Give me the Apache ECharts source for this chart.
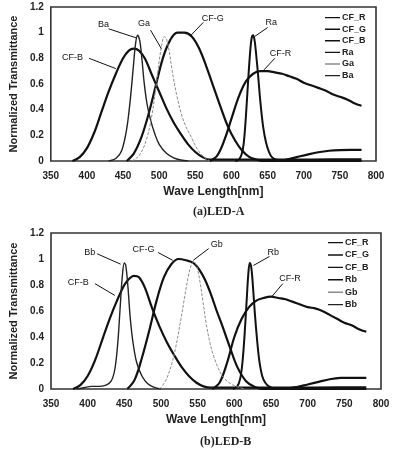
<!DOCTYPE html>
<html><head><meta charset="utf-8">
<script src="https://cdn.jsdelivr.net/npm/echarts@6/dist/echarts.min.js"></script>
<style>html,body{margin:0;padding:0;background:#fff}#c{width:394px;height:452px}</style>
</head><body><div id="c"></div>
<script>
// ---- Axis ticks ----
const xTicks = [350,400,450,500,550,600,650,700,750,800];
const yTicks = [0,0.2,0.4,0.6,0.8,1,1.2];

// ---- (a) LED-A ----
const cfrA_x = [570,580,590,600,610,620,630,640,650,660,670,680,690,700,710,720,730,740,750,760,770,780];
const cfrA_y = [0,0.04,0.16,0.33,0.5,0.62,0.68,0.7,0.7,0.69,0.68,0.66,0.64,0.61,0.59,0.57,0.55,0.52,0.5,0.48,0.45,0.43];
const cfgA_x = [455,465,475,485,495,505,515,525,535,545,555,565,575,585,595,605,615,625,635,645,655,665,675,690,705,720,735,750,765,780];
const cfgA_y = [0,0.06,0.18,0.36,0.58,0.8,0.94,1.0,1.0,0.97,0.88,0.74,0.58,0.42,0.27,0.16,0.08,0.03,0.01,0,0,0.002,0.01,0.03,0.05,0.068,0.08,0.085,0.086,0.086];
const cfbA_x = [380,390,400,410,420,430,440,450,458,465,472,480,490,500,510,520,530,540,550,560,570,580,620,680,740,780];
const cfbA_y = [0,0.03,0.1,0.22,0.38,0.54,0.68,0.8,0.86,0.875,0.86,0.8,0.67,0.54,0.41,0.3,0.21,0.13,0.07,0.03,0.01,0.01,0.01,0.01,0.012,0.012];
const raA_x = [605,610,614,617,620,623,626,628,630,632,634,637,640,644,648,652,656,662,670,700,740,780];
const raA_y = [0,0.01,0.05,0.14,0.35,0.62,0.86,0.96,0.98,0.94,0.84,0.66,0.46,0.26,0.14,0.07,0.03,0.01,0,0,0,0];
const gaA_x = [462,472,482,490,496,500,504,507,510,514,518,524,530,536,544,552,560,570];
const gaA_y = [0,0.04,0.16,0.36,0.6,0.78,0.92,0.97,0.95,0.85,0.7,0.52,0.38,0.28,0.19,0.1,0.04,0];
const baA_x = [430,440,448,455,460,464,467,470,473,476,479,483,488,494,500,510,520,530,540];
const baA_y = [0,0.02,0.08,0.25,0.48,0.72,0.9,0.98,0.94,0.8,0.62,0.45,0.32,0.21,0.13,0.06,0.025,0.008,0];

// ---- (b) LED-B ----
const cfrB_x = [570,580,590,600,610,620,630,640,650,660,670,680,690,700,710,720,730,740,750,760,770,780];
const cfrB_y = [0,0.05,0.2,0.4,0.54,0.63,0.68,0.7,0.71,0.7,0.69,0.67,0.65,0.63,0.62,0.6,0.57,0.54,0.51,0.49,0.46,0.44];
const cfgB_x = [454,464,474,484,494,504,514,524,534,544,552,560,568,576,584,594,604,616,628,640,655,670,685,700,715,730,745,760,780];
const cfgB_y = [0,0.07,0.24,0.45,0.68,0.86,0.96,1.0,0.99,0.97,0.92,0.84,0.73,0.6,0.48,0.32,0.17,0.06,0.015,0,0,0.002,0.015,0.035,0.055,0.075,0.085,0.086,0.086];
const cfbB_x = [380,390,400,410,420,430,440,450,457,463,470,478,488,498,508,518,528,538,548,558,568,580,620,680,740,780];
const cfbB_y = [0,0.03,0.1,0.22,0.38,0.54,0.68,0.8,0.85,0.87,0.86,0.78,0.62,0.48,0.36,0.26,0.17,0.1,0.05,0.02,0.01,0.01,0.01,0.01,0.012,0.012];
const rbB_x = [598,604,608,611,614,617,619,621,623,625,628,631,634,638,642,647,652,660,670,700,740,780];
const rbB_y = [0,0.02,0.08,0.2,0.42,0.7,0.88,0.97,0.94,0.82,0.58,0.38,0.22,0.1,0.05,0.02,0.008,0,0,0,0,0];
const gbB_x = [498,506,514,520,526,532,537,541,545,549,553,557,562,567,572,578,585,595,605,615];
const gbB_y = [0,0.06,0.18,0.32,0.5,0.7,0.86,0.95,0.98,0.94,0.83,0.68,0.49,0.35,0.25,0.16,0.09,0.04,0.015,0];
const bbB_x = [385,395,405,415,425,432,437,441,444,447,450,452,455,458,462,467,474,482,490,500];
const bbB_y = [0,0.01,0.02,0.02,0.03,0.06,0.15,0.35,0.6,0.85,0.97,0.95,0.78,0.55,0.35,0.2,0.1,0.04,0.015,0];

// ---- legend names ----
const legendA = ['CF_R','CF_G','CF_B','Ra','Ga','Ba'];
const legendB = ['CF_R','CF_G','CF_B','Rb','Gb','Bb'];

// ---- curve annotations: [text, labelX, labelY, lineStartX, lineStartY, curveX, curveY] ----
const annA = [
  ['Ba',423,1.06,430,1.03,468,0.96],
  ['Ga',479,1.07,488,1.02,503,0.875],
  ['CF-B',380,0.81,403,0.8,440,0.72],
  ['CF-G',574,1.11,561,1.08,544,0.98],
  ['Ra',655,1.08,650,1.04,632,0.97],
  ['CF-R',668,0.84,660,0.8,645,0.71]
];
const annB = [
  ['Bb',403,1.05,413,1.04,445,0.96],
  ['CF-B',387,0.82,410,0.81,437,0.72],
  ['CF-G',476,1.07,496,1.05,516,0.99],
  ['Gb',576,1.11,565,1.08,544,0.99],
  ['Rb',653,1.05,648,1.02,626,0.95],
  ['CF-R',676,0.85,666,0.81,651,0.71]
];

const FONT = 'Liberation Sans, Arial, sans-serif';
const pairs = (xs, ys) => xs.map((x, i) => [x, ys[i]]);

function makeSeries(idx, name, xs, ys, style, ann) {
  const s = {
    type: 'line', name: name, xAxisIndex: idx, yAxisIndex: idx,
    data: pairs(xs, ys), smooth: 0.35, symbol: 'none', animation: false,
    color: style.color,
    lineStyle: { color: style.color, width: style.width, type: style.type || 'solid' },
    z: style.z || 2
  };
  if (ann) {
    s.markLine = {
      silent: true, symbol: ['none','none'], animation: false,
      lineStyle: { color: '#111', width: 1, type: 'solid' },
      label: { show: false },
      data: ann.map(a => [{ coord: [a[3], a[4]] }, { coord: [a[5], a[6]] }])
    };
    s.markPoint = {
      silent: true, symbol: 'rect', symbolSize: 1, animation: false,
      itemStyle: { color: 'rgba(0,0,0,0)' },
      label: { show: true, position: 'inside', formatter: '{b}', color: '#111', fontSize: 9, fontFamily: FONT },
      data: ann.map(a => ({ name: a[0], coord: [a[1], a[2]] }))
    };
  }
  return s;
}

const thick = { color: '#111', width: 2.2 };
const raSt = { color: '#111', width: 2 };
const gSt = { color: '#8c8c8c', width: 1, type: [3, 1.5], z: 3 };
const bSt = { color: '#222', width: 1.4 };

const series = [
  makeSeries(0, 'CF_R', cfrA_x, cfrA_y, thick, annA),
  makeSeries(0, 'CF_G', cfgA_x, cfgA_y, thick),
  makeSeries(0, 'CF_B', cfbA_x, cfbA_y, thick),
  makeSeries(0, 'Ra', raA_x, raA_y, raSt),
  makeSeries(0, 'Ga', gaA_x, gaA_y, gSt),
  makeSeries(0, 'Ba', baA_x, baA_y, bSt),
  makeSeries(1, 'CF_R', cfrB_x, cfrB_y, thick, annB),
  makeSeries(1, 'CF_G', cfgB_x, cfgB_y, thick),
  makeSeries(1, 'CF_B', cfbB_x, cfbB_y, thick),
  makeSeries(1, 'Rb', rbB_x, rbB_y, raSt),
  makeSeries(1, 'Gb', gbB_x, gbB_y, gSt),
  makeSeries(1, 'Bb', bbB_x, bbB_y, bSt)
];

function xAx(idx) {
  return {
    type: 'value', gridIndex: idx, min: xTicks[0], max: xTicks[xTicks.length-1], interval: 50,
    name: 'Wave Length[nm]', nameLocation: 'middle', nameGap: 25,
    nameTextStyle: { fontFamily: FONT, fontWeight: 'bold', fontSize: 12, color: '#222' },
    axisLine: { show: false }, axisTick: { show: false }, splitLine: { show: false },
    axisLabel: { margin: 10, fontFamily: FONT, fontWeight: 'bold', fontSize: 10, color: '#222' }
  };
}
function yAx(idx) {
  return {
    type: 'value', gridIndex: idx, min: yTicks[0], max: yTicks[yTicks.length-1], interval: 0.2,
    name: 'Normalized Transmittance', nameLocation: 'middle', nameGap: 21,
    nameTextStyle: { fontFamily: FONT, fontWeight: 'bold', fontSize: 11, color: '#222' },
    axisLine: { show: false }, axisTick: { show: false }, splitLine: { show: false },
    axisLabel: { margin: 7, fontFamily: FONT, fontWeight: 'bold', fontSize: 10, color: '#222' }
  };
}
// thin horizontal line icon inside a 15x8 box
const LINE_ICON = 'path://M0,0h0.01v0.01h-0.01z M0,3.4h15v1.4h-15z M0,8h0.01v0.01h-0.01z';
function leg(names, left, top, gap) {
  return {
    data: names, orient: 'vertical', left: left, top: top, icon: LINE_ICON,
    itemWidth: 15, itemHeight: 8, itemGap: gap, padding: 0, selectedMode: false,
    textStyle: { fontFamily: FONT, fontWeight: 'bold', fontSize: 9, color: '#222', padding: [0,0,0,-3] }
  };
}

const chart = echarts.init(document.getElementById('c'), null, { renderer: 'canvas' });
chart.setOption({
  backgroundColor: '#ffffff',
  animation: false,
  grid: [
    { left: 50, right: 18, top: 7, height: 154, show: true, borderColor: '#333', borderWidth: 1.6, backgroundColor: 'transparent' },
    { left: 51, right: 13, top: 233, height: 156, show: true, borderColor: '#333', borderWidth: 1.6, backgroundColor: 'transparent' }
  ],
  xAxis: [xAx(0), xAx(1)],
  yAxis: [yAx(0), yAx(1)],
  legend: [leg(legendA, 325, 13, 2.6), leg(legendB, 328, 238, 3.4)],
  series: series,
  graphic: [
    { type: 'text', left: 193, top: 206, style: { text: '(a)LED-A', fontFamily: 'Liberation Serif, serif', fontWeight: 'bold', fontSize: 12, fill: '#222' } },
    { type: 'text', left: 200, top: 436, style: { text: '(b)LED-B', fontFamily: 'Liberation Serif, serif', fontWeight: 'bold', fontSize: 12, fill: '#222' } }
  ]
});
</script></body></html>
